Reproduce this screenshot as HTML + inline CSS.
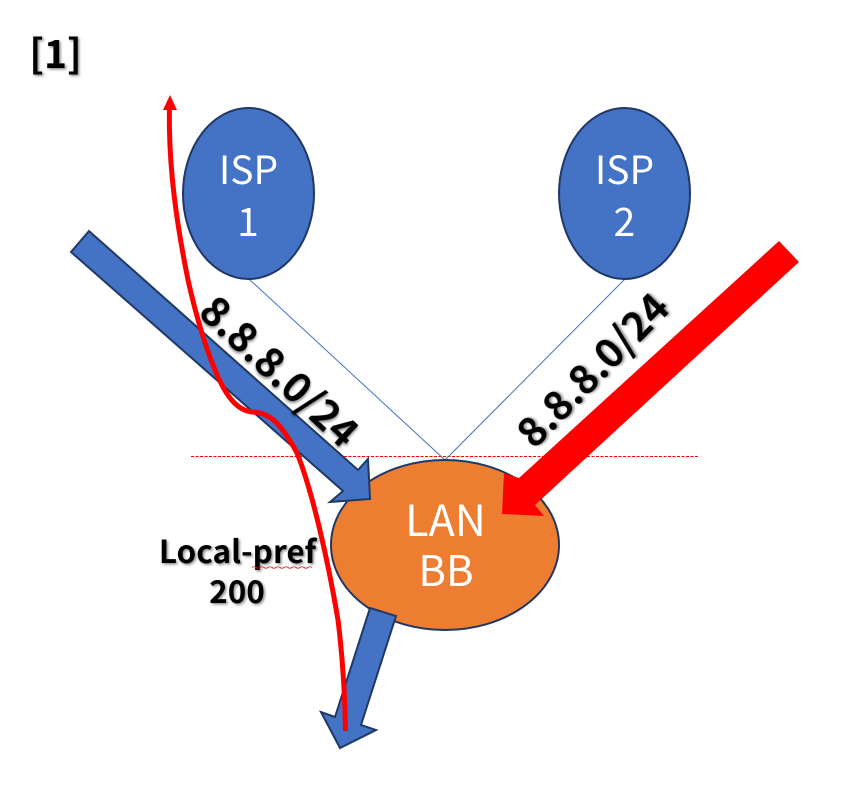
<!DOCTYPE html>
<html><head><meta charset="utf-8"><style>
html,body{margin:0;padding:0;background:#fff}
svg{display:block}
.w{font-family:"Noto Sans CJK KR","Liberation Sans",sans-serif;fill:#fff;font-size:39px;text-anchor:middle}
.b{font-family:"Noto Sans CJK KR","Liberation Sans",sans-serif;fill:#000;font-weight:700;text-anchor:middle}
</style></head><body>
<svg width="866" height="788" viewBox="0 0 866 788" xmlns="http://www.w3.org/2000/svg">
<defs><filter id="s" x="-10%" y="-10%" width="120%" height="120%"><feDropShadow dx="1.5" dy="1.5" stdDeviation="1.2" flood-color="#000" flood-opacity=".45"/></filter></defs>
<rect width="866" height="788" fill="#fff"/>
<line x1="191" y1="456.500" x2="698" y2="456.500" stroke="#f00" stroke-width="1" stroke-dasharray="3 1.500"/>
<line x1="249" y1="279" x2="445" y2="460" stroke="#4472c4" stroke-width="1"/>
<line x1="625" y1="279" x2="445" y2="460" stroke="#4472c4" stroke-width="1"/>
<ellipse cx="248.500" cy="193.500" rx="65.500" ry="85.500" fill="#4472c4" stroke="#203864" stroke-width="2"/>
<ellipse cx="624.500" cy="193.500" rx="65.500" ry="85.500" fill="#4472c4" stroke="#203864" stroke-width="2"/>
<ellipse cx="445" cy="545" rx="114" ry="85" fill="#ed7d31" stroke="#203864" stroke-width="2"/>
<text class="w" x="248.500" y="184">ISP</text>
<text class="w" x="248" y="236" font-size="41">1</text>
<text class="w" x="624.500" y="184">ISP</text>
<text class="w" x="624.500" y="236">2</text>
<text class="w" x="445.500" y="536" style="font-size:43px">LAN</text>
<text class="w" x="446" y="586" style="font-size:42px">BB</text>
<polygon points="89,231 71,252 343,491 330,502 370,499 368,459 358,470" fill="#4472c4" stroke="#203864" stroke-width="2" stroke-linejoin="miter"/>
<polygon points="370,608 396,616 361,725 376,730 340,748 321,712 335,717" fill="#4472c4" stroke="#203864" stroke-width="2"/>
<polygon points="779,241 799,262 535,505 544,516 502,514 504,473 519,478" fill="#f00"/>
<text class="b" font-size="40.500" x="0" y="0" transform="translate(269.500,382) rotate(43)" filter="url(#s)">8.8.8.0/24</text>
<text class="b" font-size="40" x="0" y="0" transform="translate(603,380) rotate(-45.500)" filter="url(#s)">8.8.8.0/24</text>
<text class="b" font-size="31.500" x="237.500" y="563" filter="url(#s)">Local-pref</text>
<text class="b" font-size="31.500" x="237" y="603" filter="url(#s)">200</text>
<text class="b" font-size="39" x="55.500" y="68" filter="url(#s)">[1]</text>
<path d="M252 567.500 q2 -1.500 4 0 t4 0 t4 0 t4 0 t4 0 t4 0 t4 0 t4 0 t4 0 t4 0 t4 0 t4 0 t4 0 t4 0 t4 0" fill="none" stroke="#f00" stroke-width="0.8"/>
<path d="M169.500 106 C168 170 178 230 188 280 C197 320 207 352 218 377 C227 397 237 410 252 412 C270 412 282 425 297 453 C312 490 328 560 338 620 C343 660 345 700 345.500 731" fill="none" stroke="#f00" stroke-width="5"/>
<polygon points="170,95 163,110 177,110" fill="#f00"/>
</svg>
</body></html>
